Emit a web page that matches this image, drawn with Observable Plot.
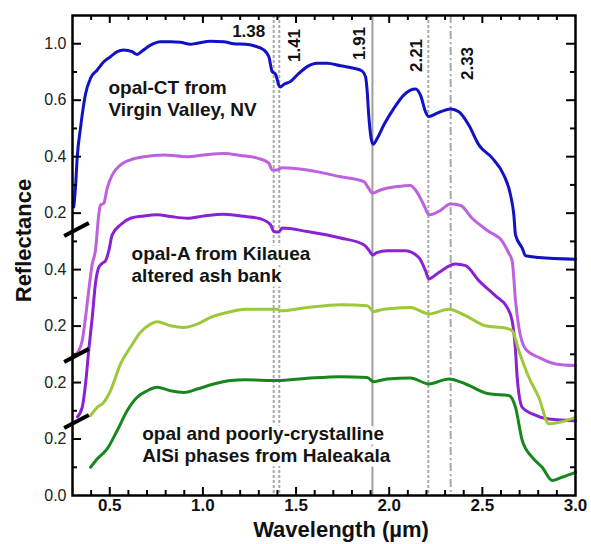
<!DOCTYPE html>
<html>
<head>
<meta charset="utf-8">
<script src="https://cdn.jsdelivr.net/npm/d3@7"></script>
<script src="https://cdn.jsdelivr.net/npm/@observablehq/plot@0.6"></script>
<style>
  html, body { margin: 0; padding: 0; background: #fff; }
  #wrap { position: relative; width: 591px; height: 544px; }
  #wrap svg { display: block; }
  #wrap svg.overlay { position: absolute; left: 0; top: 0; pointer-events: none; }
</style>
</head>
<body>
<div id="wrap"></div>
<script>
// ---- Data: [wavelength (µm), plotted (offset) reflectance in axis units] ----
const opalCT_VirginValley = [
  [0.307,1.022],[0.316,1.091],[0.325,1.195],[0.343,1.302],[0.370,1.422],[0.397,1.478],[0.433,1.507],
  [0.468,1.536],[0.504,1.554],[0.540,1.572],[0.575,1.578],[0.620,1.572],[0.647,1.562],[0.674,1.574],
  [0.719,1.595],[0.772,1.607],[0.826,1.607],[0.880,1.605],[0.933,1.598],[0.969,1.602],[1.041,1.609],
  [1.112,1.607],[1.166,1.600],[1.229,1.598],[1.273,1.593],[1.327,1.578],[1.354,1.554],[1.372,1.501],
  [1.390,1.492],[1.407,1.454],[1.416,1.447],[1.434,1.456],[1.470,1.466],[1.515,1.495],[1.560,1.519],
  [1.613,1.531],[1.667,1.531],[1.739,1.522],[1.810,1.513],[1.855,1.503],[1.873,1.483],[1.882,1.430],
  [1.890,1.348],[1.903,1.265],[1.914,1.244],[1.936,1.265],[1.971,1.312],[2.025,1.371],[2.078,1.418],
  [2.114,1.436],[2.141,1.440],[2.168,1.418],[2.195,1.359],[2.213,1.342],[2.258,1.354],[2.329,1.369],
  [2.374,1.359],[2.427,1.312],[2.481,1.242],[2.553,1.195],[2.615,1.135],[2.651,1.065],[2.669,0.994],
  [2.678,0.923],[2.714,0.876],[2.732,0.849],[2.803,0.843],[3.000,0.837]
];
const opalA_Kilauea1 = [
  [0.316,0.500],[0.334,0.513],[0.352,0.548],[0.370,0.631],[0.387,0.725],[0.406,0.820],[0.423,0.867],
  [0.441,0.994],[0.450,1.029],[0.468,1.035],[0.486,1.088],[0.513,1.135],[0.558,1.171],[0.611,1.189],
  [0.683,1.200],[0.790,1.206],[0.915,1.200],[1.005,1.206],[1.112,1.211],[1.202,1.204],[1.291,1.195],
  [1.354,1.177],[1.372,1.153],[1.399,1.153],[1.426,1.161],[1.560,1.153],[1.739,1.129],[1.864,1.112],
  [1.890,1.088],[1.909,1.071],[1.953,1.082],[2.043,1.094],[2.114,1.098],[2.141,1.082],[2.186,1.029],
  [2.213,0.994],[2.266,1.006],[2.329,1.032],[2.383,1.027],[2.445,0.982],[2.535,0.935],[2.607,0.900],
  [2.642,0.858],[2.660,0.831],[2.678,0.690],[2.696,0.595],[2.732,0.519],[2.803,0.489],[2.893,0.466],
  [3.000,0.460]
];
const opalA_Kilauea2 = [
  [0.327,0.279],[0.352,0.312],[0.370,0.395],[0.387,0.513],[0.406,0.631],[0.423,0.749],[0.441,0.808],
  [0.459,0.822],[0.477,0.831],[0.495,0.867],[0.513,0.923],[0.558,0.959],[0.611,0.982],[0.683,0.990],
  [0.755,0.994],[0.826,0.988],[0.915,0.982],[1.005,0.990],[1.112,0.996],[1.229,0.988],[1.309,0.980],
  [1.363,0.959],[1.381,0.935],[1.407,0.933],[1.426,0.947],[1.560,0.935],[1.739,0.912],[1.864,0.888],
  [1.890,0.870],[1.911,0.852],[1.933,0.860],[1.989,0.867],[2.087,0.867],[2.159,0.843],[2.195,0.796],
  [2.213,0.767],[2.266,0.790],[2.356,0.820],[2.410,0.814],[2.481,0.761],[2.571,0.707],[2.633,0.666],
  [2.660,0.619],[2.678,0.513],[2.687,0.418],[2.714,0.312],[2.768,0.289],[2.857,0.271],[3.000,0.265]
];
const haleakala1 = [
  [0.397,0.283],[0.433,0.312],[0.468,0.330],[0.504,0.371],[0.558,0.466],[0.611,0.525],[0.665,0.578],
  [0.719,0.607],[0.755,0.615],[0.826,0.601],[0.897,0.595],[0.969,0.607],[1.041,0.631],[1.148,0.651],
  [1.229,0.660],[1.398,0.660],[1.416,0.654],[1.560,0.666],[1.739,0.676],[1.882,0.672],[1.917,0.652],
  [1.971,0.660],[2.114,0.666],[2.213,0.643],[2.320,0.660],[2.410,0.637],[2.517,0.601],[2.624,0.593],
  [2.660,0.584],[2.696,0.513],[2.750,0.418],[2.803,0.348],[2.857,0.254],[2.911,0.259],[3.000,0.277]
];
const haleakala2 = [
  [0.397,0.100],[0.433,0.130],[0.486,0.165],[0.540,0.230],[0.594,0.301],[0.647,0.348],[0.701,0.371],
  [0.755,0.383],[0.826,0.371],[0.897,0.365],[0.969,0.377],[1.058,0.395],[1.148,0.407],[1.229,0.410],
  [1.398,0.407],[1.560,0.415],[1.739,0.421],[1.882,0.418],[1.917,0.403],[1.989,0.413],[2.114,0.416],
  [2.213,0.395],[2.320,0.413],[2.410,0.395],[2.535,0.360],[2.642,0.354],[2.678,0.312],[2.714,0.195],
  [2.768,0.135],[2.821,0.100],[2.875,0.053],[2.929,0.065],[3.000,0.082]
];
const seriesNames = ["opal-CT Virgin Valley", "opal-A Kilauea 1", "opal-A Kilauea 2", "Haleakala 1", "Haleakala 2"];
const seriesData = [opalCT_VirginValley, opalA_Kilauea1, opalA_Kilauea2, haleakala1, haleakala2];
const seriesColors = ["#1212c4", "#bd62de", "#8a22d4", "#9cc83a", "#17861c"];

// Absorption band positions (µm)
const bandWavelengths = [1.38, 1.41, 1.91, 2.21, 2.33];
const bandStyles = ["dot", "dot", "solid", "dot", "dashdot"];

// Axis ticks and labels (y labels are per-spectrum offset scales)
const xLabelTicks = [0.5, 1.0, 1.5, 2.0, 2.5, 3.0];
const xMinorTicks = [0.4,0.6,0.7,0.8,0.9,1.1,1.2,1.3,1.4,1.6,1.7,1.8,1.9,2.1,2.2,2.3,2.4,2.6,2.7,2.8,2.9];
const xMajorTicks = [0.5, 1.0, 1.5, 2.0, 2.5];
const yLabelPositions = [0, 0.2, 0.4, 0.6, 0.8, 1.0, 1.2, 1.4, 1.6];
const yLabelTexts = ["0.0", "0.2", "0.2", "0.2", "0.4", "0.2", "0.4", "0.6", "1.0"];
const yMajorTicks = [0.2, 0.4, 0.6, 0.8, 1.0, 1.2, 1.4, 1.6];
const yMinorTicks = [0.1, 0.3, 0.5, 0.7, 0.9, 1.1, 1.3, 1.5];
const axisBreaks = [0.262, 0.496, 0.942];

const sampleNotes = ["opal-CT from\nVirgin Valley, NV", "opal-A from Kilauea\naltered ash bank", "opal and poorly-crystalline\nAlSi phases from Haleakala"];

// ---- Build table ----
const rows = seriesData.flatMap((arr, i) => arr.map(([wl, r]) => ({series: seriesNames[i], wl, r})));

const W = 591, H = 544, mL = 72, mR = 16, mT = 15, mB = 49;
const innerW = W - mL - mR, innerH = H - mT - mB;
const xDom = [0.3, 3.0], yDom = [0, 1.7];
const font = "'Liberation Sans', Arial, Helvetica, sans-serif";
const dashFor = {dot: "3,2", solid: undefined, dashdot: "8,3,2,3"};
const bandLabelOpts = {
  1.38: {rotate: 0, dx: -25, dy: 16},
  1.41: {rotate: -90, dx: 15, dy: 30},
  1.91: {rotate: -90, dx: -13, dy: 28},
  2.21: {rotate: -90, dx: -12, dy: 40},
  2.33: {rotate: -90, dx: 17, dy: 48}
};
const lineShape = {draw(context, l) { context.moveTo(0, 0); context.lineTo(0, -l); }};

const bandRules = bandWavelengths.map((w, i) => Plot.ruleX([w], {
  x: d => d, stroke: bandStyles[i] === "solid" ? "#9e9e9e" : "#a8a8a8", strokeWidth: 2,
  ...(dashFor[bandStyles[i]] ? {strokeDasharray: dashFor[bandStyles[i]]} : {})
}));
const bandLabels = bandWavelengths.map(w => Plot.text([w], {
  x: d => d, text: d => d.toFixed(2), frameAnchor: "top", lineAnchor: "middle", textAnchor: "middle",
  fontSize: 17, fontWeight: "bold", fill: "#111", ...bandLabelOpts[w]
}));
const noteStyle = {textAnchor: "start", lineAnchor: "top", lineHeight: 1.16, fontSize: 19, fontWeight: "bold",
  fill: "#141414", stroke: "white", strokeWidth: 9};

const common = {
  width: W, height: H,
  marginLeft: mL, marginRight: mR, marginTop: mT, marginBottom: mB,
  x: {domain: xDom}, y: {domain: yDom}
};

// main layer: spectra, band lines, labels
const chart = Plot.plot({
  ...common,
  style: {fontFamily: font, background: "white", color: "black"},
  color: {domain: seriesNames, range: seriesColors},
  marks: [
    ...bandRules,
    Plot.text([sampleNotes[0]], {x: 0.493, y: 1.476, text: d => d, ...noteStyle}),
    Plot.text([sampleNotes[1]], {x: 0.617, y: 0.888, text: d => d, ...noteStyle}),
    Plot.text([sampleNotes[2]], {x: 0.674, y: 0.253, text: d => d, ...noteStyle}),
    Plot.line(rows, {x: "wl", y: "r", z: "series", stroke: "series", strokeWidth: 3,
      curve: "monotone-x", strokeLinejoin: "round", strokeLinecap: "round"}),
    Plot.axisY(yLabelPositions, {anchor: "left", tickSize: 0, tickPadding: 6, fontSize: 16, fill: "#222",
      tickFormat: d => yLabelTexts[Math.round(d * 5)], label: null}),
    Plot.axisX(xLabelTicks, {anchor: "bottom", tickSize: 0, tickPadding: 3, fontSize: 17, fontWeight: "bold",
      fill: "#111", tickFormat: d => d.toFixed(1), label: null}),
    ...bandLabels,
    Plot.text(["Reflectance"], {frameAnchor: "left", dx: -49, dy: -15, rotate: -90, lineAnchor: "middle",
      textAnchor: "middle", fontSize: 22, fontWeight: "bold", fill: "#111"}),
    Plot.text(["Wavelength (µm)"], {frameAnchor: "bottom", dx: 17, dy: 34, lineAnchor: "middle",
      textAnchor: "middle", fontSize: 22, fontWeight: "bold", fill: "#111"})
  ]
});

// frame layer: box, inward ticks on four sides, axis-break marks (same scales)
const tk = {stroke: "black", strokeWidth: 2};
const frameLayer = Plot.plot({
  ...common,
  x: {domain: xDom, axis: null},
  y: {domain: yDom, axis: null},
  style: {background: "transparent", color: "black"},
  marks: [
    Plot.tickY(yMajorTicks, {y: d => d, insetRight: innerW - 9, ...tk}),
    Plot.tickY(yMajorTicks, {y: d => d, insetLeft: innerW - 9, ...tk}),
    Plot.tickY(yMinorTicks, {y: d => d, insetRight: innerW - 5, ...tk}),
    Plot.tickY(yMinorTicks, {y: d => d, insetLeft: innerW - 5, ...tk}),
    Plot.tickX(xMajorTicks, {x: d => d, insetTop: innerH - 8, ...tk}),
    Plot.tickX(xMajorTicks, {x: d => d, insetBottom: innerH - 8, ...tk}),
    Plot.tickX(xMinorTicks, {x: d => d, insetTop: innerH - 5, ...tk}),
    Plot.tickX(xMinorTicks, {x: d => d, insetBottom: innerH - 5, ...tk}),
    Plot.frame({stroke: "black", strokeWidth: 2.5}),
    Plot.vector(axisBreaks, {x: xDom[0], y: d => d, dx: 4, length: 28, rotate: 62, anchor: "middle",
      shape: lineShape, stroke: "black", strokeWidth: 4, strokeLinecap: "butt"})
  ]
});
frameLayer.classList.add("overlay");

const wrap = document.getElementById("wrap");
wrap.appendChild(chart);
wrap.appendChild(frameLayer);
</script>
</body>
</html>
